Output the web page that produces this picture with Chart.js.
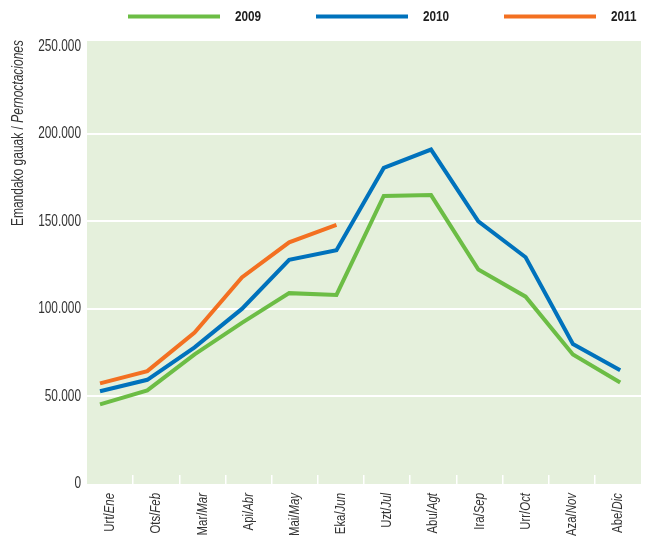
<!DOCTYPE html>
<html>
<head>
<meta charset="utf-8">
<script src="https://cdn.jsdelivr.net/npm/chart.js@4.4.1/dist/chart.umd.min.js"></script>
<style>
  html, body { margin: 0; padding: 0; background: #fff; }
  #wrap { width: 651px; height: 544px; }
</style>
</head>
<body>
<div id="wrap"><canvas id="chart"></canvas></div>
<script>
// months, basque / spanish
const monthsEu = ['Urt', 'Ots', 'Mar', 'Api', 'Mai', 'Eka', 'Uzt', 'Abu', 'Ira', 'Urr', 'Aza', 'Abe'];
const monthsEs = ['Ene', 'Feb', 'Mar', 'Abr', 'May', 'Jun', 'Jul', 'Agt', 'Sep', 'Oct', 'Nov', 'Dic'];

const years = ['2009', '2010', '2011'];
const nights2009 = [45500, 53500, 74000, 92000, 109000, 108000, 164500, 165000, 122500, 107000, 74000, 58000];
const nights2010 = [53000, 59500, 78000, 100000, 128000, 133500, 180500, 191000, 150000, 129500, 80000, 65000];
const nights2011 = [57500, 64500, 86500, 118000, 138000, 148000, null, null, null, null, null, null];

const yTicks = [0, 50000, 100000, 150000, 200000, 250000];

const colors = ['#6cbd45', '#0072bc', '#f37021'];
const FONT = '"Liberation Sans", Arial, sans-serif';
const textColor = '#333333';

const categories = monthsEu.map((m, i) => m + '/' + monthsEs[i]);

function fmt(v) {
    return v.toString().replace(/\B(?=(\d{3})+(?!\d))/g, '.');
}

// draw a run of text pieces, squeezed horizontally; align 'left' or 'right'
function squeezed(c, parts, x, y, align, size, sx) {
    let w = 0;
    parts.forEach(p => {
        c.font = p.style + ' ' + size + 'px ' + FONT;
        p.w = c.measureText(p.t).width;
        w += p.w;
    });
    c.save();
    c.translate(x, y);
    c.scale(sx, 1);
    c.textAlign = 'left';
    let cx = align === 'right' ? -w : 0;
    parts.forEach(p => {
        c.font = p.style + ' ' + size + 'px ' + FONT;
        c.fillText(p.t, cx, 0);
        cx += p.w;
    });
    c.restore();
}

// green plot background
const plotBg = {
    id: 'plotBg',
    beforeDraw(chart) {
        const a = chart.chartArea;
        const c = chart.ctx;
        c.save();
        c.fillStyle = '#e5f0dc';
        c.fillRect(a.left, a.top, a.right - a.left, a.bottom - a.top);
        c.restore();
    }
};

// legend, axis title, tick labels (mixed upright / italic, condensed face)
const extras = {
    id: 'extras',
    afterDraw(chart) {
        const c = chart.ctx;
        const x = chart.scales.x;
        const y = chart.scales.y;

        c.save();
        c.fillStyle = textColor;
        c.textBaseline = 'middle';

        // month labels
        x.ticks.forEach((t, i) => {
            c.save();
            c.translate(x.getPixelForTick(i), x.top + 9);
            c.rotate(-Math.PI / 2);
            squeezed(c, [{ t: monthsEu[i] + '/', style: 'normal' }, { t: monthsEs[i], style: 'italic' }],
                0, 0, 'right', 15, 0.76);
            c.restore();
        });

        // value labels
        y.ticks.forEach(t => {
            squeezed(c, [{ t: fmt(t.value), style: 'normal' }], y.right - 6, y.getPixelForValue(t.value), 'right', 16, 0.74);
        });

        // y title
        c.save();
        c.translate(19, 40);
        c.rotate(-Math.PI / 2);
        squeezed(c, [{ t: 'Emandako gauak / ', style: 'normal' }, { t: 'Pernoctaciones', style: 'italic' }],
            0, 0, 'right', 16, 0.75);
        c.restore();
        c.restore();

        // legend
        c.save();
        c.textBaseline = 'middle';
        c.fillStyle = '#1e1e1e';
        chart.data.datasets.forEach((ds, i) => {
            const x0 = 128 + i * 188;
            c.strokeStyle = ds.borderColor;
            c.lineWidth = 4;
            c.beginPath();
            c.moveTo(x0, 16.5);
            c.lineTo(x0 + 92, 16.5);
            c.stroke();
            squeezed(c, [{ t: ds.label, style: 'bold' }], x0 + 107, 17, 'left', 14, 0.84);
        });
        c.restore();
    }
};

const toPoints = arr => arr.map((v, i) => ({ x: i, y: v }));

const ctx = document.getElementById('chart');

new Chart(ctx, {
    type: 'line',
    data: {
        labels: categories,
        datasets: [
            { label: years[0], data: toPoints(nights2009), xAxisID: 'xd', borderColor: colors[0], backgroundColor: colors[0] },
            { label: years[1], data: toPoints(nights2010), xAxisID: 'xd', borderColor: colors[1], backgroundColor: colors[1] },
            { label: years[2], data: toPoints(nights2011), xAxisID: 'xd', borderColor: colors[2], backgroundColor: colors[2] }
        ]
    },
    options: {
        responsive: true,
        maintainAspectRatio: false,
        animation: false,
        layout: { padding: { top: 41, right: 10, left: 0, bottom: 0 } },
        elements: {
            line: { borderWidth: 4, tension: 0, fill: false, borderCapStyle: 'butt' },
            point: { radius: 0, hoverRadius: 0 }
        },
        plugins: {
            legend: { display: false },
            tooltip: { enabled: false }
        },
        scales: {
            // month axis: labels and the little white separators
            x: {
                type: 'category',
                offset: true,
                afterFit(s) { s.height = 60; },
                border: { display: false },
                grid: {
                    offset: true,
                    drawOnChartArea: false,
                    drawTicks: true,
                    tickLength: -9,
                    lineWidth: 1.5,
                    color: c => c.index ? '#ffffff' : 'rgba(0,0,0,0)'
                },
                ticks: { display: false, autoSkip: false }
            },
            // the lines in the original sit on a slightly wider month spacing
            xd: {
                type: 'linear',
                position: 'bottom',
                display: false,
                min: -0.275,
                max: 11.44
            },
            y: {
                min: 0,
                max: 253000,
                afterFit(s) { s.width = 87; },
                afterBuildTicks(s) { s.ticks = yTicks.map(v => ({ value: v })); },
                border: { display: false },
                grid: {
                    drawTicks: false,
                    lineWidth: 2,
                    color: c => (c.tick && c.tick.value > 0 && c.tick.value < 250000) ? '#ffffff' : 'rgba(0,0,0,0)'
                },
                ticks: { display: false }
            }
        }
    },
    plugins: [plotBg, extras]
});
</script>
</body>
</html>
